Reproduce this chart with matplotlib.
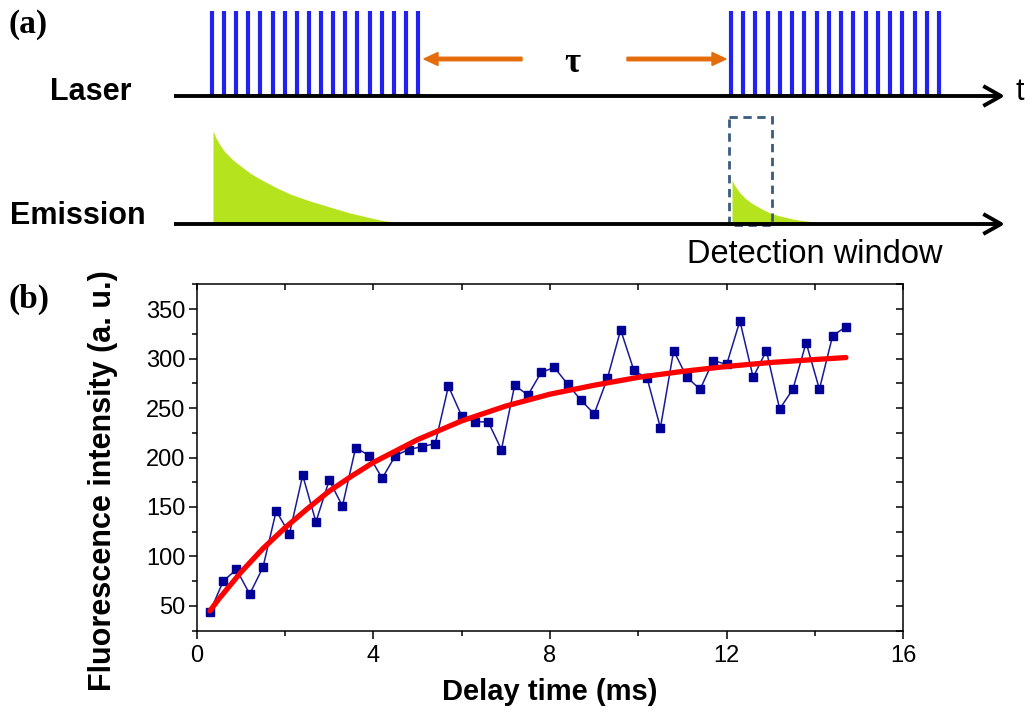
#!/usr/bin/env python3
import numpy as np
import matplotlib
matplotlib.use('Agg')
import matplotlib.pyplot as plt
from matplotlib.patches import Rectangle
from matplotlib.ticker import MultipleLocator

plt.rcParams['font.family'] = ['Liberation Sans', 'DejaVu Sans']

# measured decay (panel b)
delay_ms = [0.3, 0.6, 0.9, 1.2, 1.5, 1.8, 2.1, 2.4, 2.7, 3.0,
            3.3, 3.6, 3.9, 4.2, 4.5, 4.8, 5.1, 5.4, 5.7, 6.0,
            6.3, 6.6, 6.9, 7.2, 7.5, 7.8, 8.1, 8.4, 8.7, 9.0,
            9.3, 9.6, 9.9, 10.2, 10.5, 10.8, 11.1, 11.4, 11.7, 12.0,
            12.3, 12.6, 12.9, 13.2, 13.5, 13.8, 14.1, 14.4, 14.7]
intensity = [44, 75, 87, 62, 89, 146, 123, 182, 135, 177,
             151, 210, 202, 179, 202, 208, 211, 214, 272, 242,
             236, 236, 208, 273, 263, 286, 291, 274, 258, 244,
             280, 329, 288, 280, 230, 308, 281, 269, 298, 294,
             338, 281, 308, 249, 269, 316, 269, 323, 332]

# fitted curve
fit_x = [0.3, 0.5, 1.0, 1.5, 2.0, 2.5, 3.0, 3.5, 4.0, 5.0, 6.0,
         7.0, 8.0, 9.0, 10.0, 11.0, 12.0, 13.0, 14.0, 14.7]
fit_y = [45, 57, 84, 108, 129, 148, 166, 181, 195, 218, 237,
         252, 264, 273, 281, 287, 292, 296, 299, 301]

x_ticks = [0, 4, 8, 12, 16]
y_ticks = [50, 100, 150, 200, 250, 300, 350]

# schematic (panel a), pixel coordinates of the decay outlines
decay1_x = [213, 216, 220, 225, 233, 242, 250, 260, 275, 290, 310, 333,
            350, 367, 380, 392]
decay1_y = [131, 138, 145, 152, 160, 167, 173, 179, 187, 194, 201, 208,
            213, 217, 220, 222]
decay2_x = [732, 735, 740, 746, 753, 762, 770, 780, 795, 810, 828]
decay2_y = [180, 186, 193, 199, 204, 209, 213, 216, 219.5, 221.5, 223]

fig = plt.figure(figsize=(10.3, 7.12), dpi=100)

# overlay in pixel units for the schematic and the panel letters
ov = fig.add_axes([0, 0, 1, 1])
ov.set_xlim(0, 1030)
ov.set_ylim(712, 0)
ov.axis('off')

blue = '#2222ee'
orange = '#e46c0a'
green = '#b5e31e'

# laser pulse trains
for x0, x1 in [(212, 418), (731, 939)]:
    ov.vlines(np.linspace(x0, x1, 18), 11, 96, color=blue, lw=3)

# time axes with open arrowheads
for yb in [96, 224]:
    ov.plot([174, 1000], [yb, yb], color='black', lw=2.8, solid_capstyle='butt')
    ov.plot([985, 1001, 985], [yb - 9, yb, yb + 9], color='black', lw=2.8)

# emission decays
ov.fill_between(decay1_x, decay1_y, 223, color=green, lw=0)
ov.fill_between(decay2_x, decay2_y, 223, color=green, lw=0)

# detection window
ov.add_patch(Rectangle((729, 117), 43, 108, fill=False, ls=(0, (3, 2)),
                       lw=2, ec='#3b5b7f'))

# tau arrows
ov.arrow(522, 59, -98, 0, width=3.5, head_width=13, head_length=14,
         length_includes_head=True, color=orange)
ov.arrow(627, 59, 99, 0, width=3.5, head_width=13, head_length=14,
         length_includes_head=True, color=orange)
ov.text(572, 72, 'τ', fontsize=25, fontweight='bold', ha='center',
        va='baseline', family=['Liberation Serif', 'DejaVu Serif'])

ov.text(131, 100, 'Laser', fontsize=22, fontweight='bold', ha='right', va='baseline')
ov.text(146, 224, 'Emission', fontsize=22, fontweight='bold', ha='right', va='baseline')
ov.text(687, 263, 'Detection window', fontsize=23.5, ha='left', va='baseline')
ov.text(1016, 100, 't', fontsize=22, ha='left', va='baseline')

ov.text(8, 33, '(a)', fontsize=24, fontweight='bold', family='Liberation Serif',
        va='baseline')
ov.text(8, 308, '(b)', fontsize=24, fontweight='bold', family='Liberation Serif',
        va='baseline')

# panel (b)
ax = fig.add_axes([196.7 / 1030, 1 - 630.7 / 712, 706.6 / 1030, 346.4 / 712])
ax.plot(delay_ms, intensity, '-s', color='#1a1a99', lw=1.1, ms=5.5,
        mfc='#000099', mec='#000099', zorder=2)
ax.plot(fit_x, fit_y, '-', color='#ff0000', lw=3.8, solid_capstyle='round',
        zorder=3)

ax.set_xlim(0, 16)
ax.set_ylim(25, 375)
ax.set_xticks(x_ticks)
ax.set_yticks(y_ticks)
ax.xaxis.set_minor_locator(MultipleLocator(2))
ax.yaxis.set_minor_locator(MultipleLocator(25))
ax.tick_params(axis='both', which='major', labelsize=17, direction='out',
               width=1.1, length=6)
ax.tick_params(axis='both', which='minor', direction='out', width=1.1, length=3.5)
ax.tick_params(axis='x', pad=4)
ax.tick_params(axis='y', pad=2)
ax.tick_params(top=True, right=True, which='both')
# top and right ticks point inward
for t in ax.xaxis.get_major_ticks() + ax.xaxis.get_minor_ticks():
    t.tick2line.set_marker(3)
    t.tick2line.set_markersize(4)
for t in ax.yaxis.get_major_ticks() + ax.yaxis.get_minor_ticks():
    t.tick2line.set_marker(0)
    t.tick2line.set_markersize(5)
for s in ax.spines.values():
    s.set_linewidth(1.1)

ax.set_xlabel('Delay time (ms)', fontsize=21, fontweight='bold', labelpad=8)
ax.set_ylabel('Fluorescence intensity (a. u.)', fontsize=22, fontweight='bold')
ax.yaxis.set_label_coords(-0.111, 0.432)

fig.savefig('out.png', dpi=100)
